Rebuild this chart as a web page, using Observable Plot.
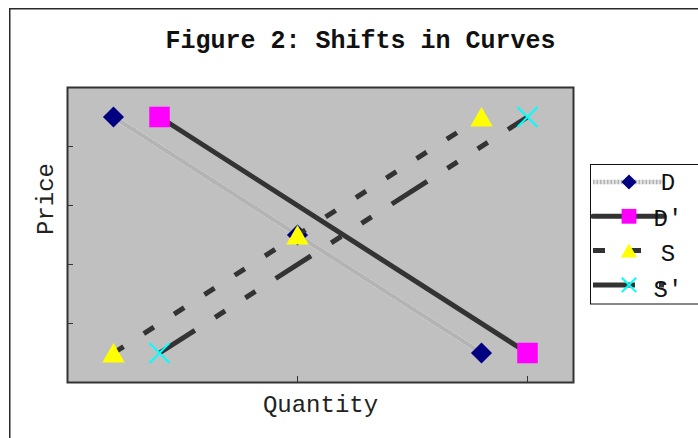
<!DOCTYPE html>
<html><head><meta charset="utf-8">
<script src="https://cdn.jsdelivr.net/npm/d3@7"></script>
<script src="https://cdn.jsdelivr.net/npm/@observablehq/plot@0.6"></script>
<style>
html,body{margin:0;padding:0;background:#fff;}
#chart{width:698px;height:438px;overflow:hidden;}
</style></head><body><div id="chart"></div>
<script>
// ---- data ----
const titleText = "Figure 2: Shifts in Curves";
const xLabel = "Quantity";
const yLabel = "Price";
const seriesNames = ["D", "D'", "S", "S'"];
const dX = [1, 5, 9];   const dY = [9, 5, 1];
const d2X = [2, 10];    const d2Y = [9, 1];
const sX = [1, 5, 9];   const sY = [1, 5, 9];
const s2X = [2, 10];    const s2Y = [1, 9];
const xDomain = [0, 11];
const yDomain = [0, 10];
const xTicks = [0, 5, 10];
const yTicks = [2, 4, 6, 8];

// ---- styles ----
const FONT = "'Courier New','Liberation Mono',monospace";
const ink = "#333333";
const styles = [
  {name: seriesNames[0], layers: [{stroke: "#f2f2f2", strokeWidth: 4.5}, {stroke: "#b4b4b4", strokeWidth: 4.5, strokeDasharray: "1.5,2"}],
   symbol: "diamond2", d3sym: d3.symbolDiamond2, fill: "#000080", r: 9.5},
  {name: seriesNames[1], layers: [{stroke: ink, strokeWidth: 5, strokeLinecap: "round"}],
   symbol: "square", d3sym: d3.symbolSquare, fill: "#ff00ff", r: 11.6},
  {name: seriesNames[2], layers: [{stroke: ink, strokeWidth: 5, strokeDasharray: "12,24", strokeLinecap: "butt"}],
   symbol: "triangle", d3sym: d3.symbolTriangle, fill: "#ffff00", r: 8.3, dy: 3},
  {name: seriesNames[3], layers: [{stroke: ink, strokeWidth: 5, strokeDasharray: "42,24,12,24,12,24", strokeLinecap: "butt"}],
   symbol: "times", d3sym: d3.symbolTimes, stroke: "#00ffff", r: 9.2, strokeWidth: 2}
];
const rows = (xs, ys) => xs.map((x, i) => ({x, y: ys[i]}));
const seriesData = [rows(dX, dY), rows(d2X, d2Y), rows(sX, sY), rows(s2X, s2Y)];

const W = 698, H = 438;
const mL = 67, mT = 87, mR = 125, mB = 56;

const seriesMarks = [];
styles.forEach((s, i) => {
  s.layers.forEach(l => seriesMarks.push(Plot.line(seriesData[i], {x: "x", y: "y", ...l})));
  if (s.stroke) {
    seriesMarks.push(Plot.dot(seriesData[i], {x: "x", y: "y", symbol: s.symbol, r: s.r, fill: "none", stroke: s.stroke, strokeWidth: s.strokeWidth}));
  } else {
    seriesMarks.push(Plot.dot(seriesData[i], {x: "x", y: "y", symbol: s.symbol, r: s.r, fill: s.fill, dy: s.dy || 0}));
  }
});

const plot = Plot.plot({
  width: W, height: H,
  marginLeft: mL, marginTop: mT, marginRight: mR, marginBottom: mB,
  style: {background: "transparent", fontFamily: FONT, overflow: "visible"},
  x: {domain: xDomain},
  y: {domain: yDomain},
  marks: [
    Plot.frame({fill: "#c0c0c0"}),
    Plot.axisX({ticks: xTicks, tickSize: -6, tickFormat: () => "", label: null, stroke: ink}),
    Plot.axisY({ticks: yTicks, tickSize: -6, tickFormat: () => "", label: null, stroke: ink}),
    Plot.frame({stroke: ink, strokeWidth: 2}),
    ...seriesMarks,
    Plot.text([titleText], {frameAnchor: "top", dx: 40, dy: -48, lineAnchor: "middle", fontSize: 25, fontWeight: "bold", fill: "#111", fontFamily: FONT}),
    Plot.text([xLabel], {frameAnchor: "bottom", dy: 22, lineAnchor: "middle", fontSize: 24, fill: "#222", fontFamily: FONT}),
    Plot.text([yLabel], {frameAnchor: "left", dx: -22, rotate: -90, lineAnchor: "middle", fontSize: 24, fill: "#222", fontFamily: FONT})
  ]
});

const svg = d3.select(plot);
// outer chart border
svg.append("rect").attr("x", 9.75).attr("y", 8.75).attr("width", 760).attr("height", 500)
  .attr("fill", "none").attr("stroke", "#2a2a2a").attr("stroke-width", 1.5);

// legend
const lg = svg.append("g").attr("font-family", FONT);
lg.append("rect").attr("x", 590.5).attr("y", 164.5).attr("width", 140).attr("height", 139.5)
  .attr("fill", "#fff").attr("stroke", "#111").attr("stroke-width", 1);
styles.forEach((s, i) => {
  const ly = 182 + i * 34.3;
  const ty = 190 + i * 35.6;
  s.layers.forEach(l => {
    lg.append("line").attr("x1", 593).attr("x2", 664).attr("y1", ly).attr("y2", ly)
      .attr("stroke", l.stroke === "#f2f2f2" ? "#e2e2e2" : l.stroke).attr("stroke-width", l.strokeWidth)
      .attr("stroke-dasharray", l.strokeDasharray || null)
      .attr("stroke-linecap", l.strokeLinecap || "butt");
  });
  const size = Math.PI * Math.pow(s.r * 0.72, 2);
  const p = lg.append("path").attr("d", d3.symbol(s.d3sym, size)())
    .attr("transform", `translate(629,${ly + (s.dy ? s.dy * 0.72 : 0)})`);
  if (s.stroke) p.attr("fill", "none").attr("stroke", s.stroke).attr("stroke-width", s.strokeWidth);
  else p.attr("fill", s.fill);
  lg.append("text").attr("x", 668).attr("y", ty).attr("font-size", 24).attr("fill", "#111").text(s.name);
});

document.getElementById("chart").appendChild(plot);
</script>
</body></html>
